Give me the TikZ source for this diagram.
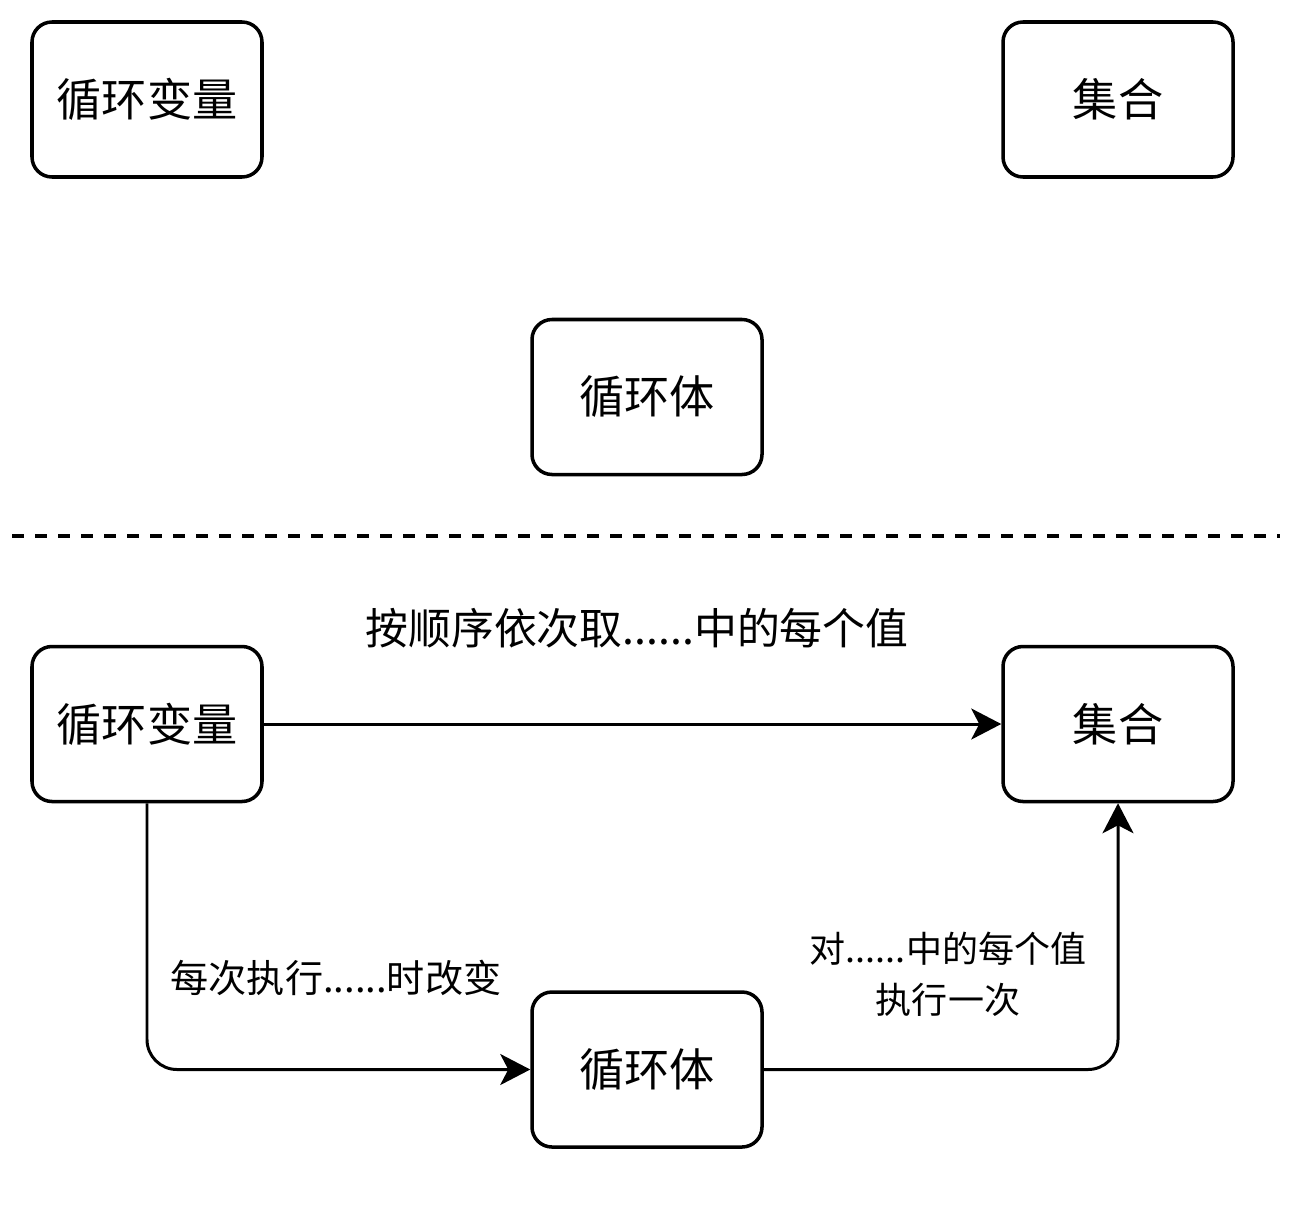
\documentclass[tikz,border=0pt]{standalone}
\usepackage{fontspec}
\setmainfont{Noto Sans CJK SC}
\usepackage{tikz}
\usetikzlibrary{positioning,arrows.meta}

\begin{document}
\begin{tikzpicture}[
  boxnode/.style={
    draw=black, line width=2pt, rounded corners=0.4cm,
    minimum width=4.6cm, minimum height=3.1cm,
    fill=white, font=\fontsize{25.7}{30}\selectfont,
    align=center,
  },
  lbl/.style={font=\fontsize{24.4}{28}\selectfont, align=center, inner sep=1pt},
  lblmid/.style={font=\fontsize{21.7}{26}\selectfont, align=center, inner sep=1pt},
  lblsmall/.style={font=\fontsize{20.5}{29}\selectfont, align=center, inner sep=1pt},
  link/.style={draw=black, line width=1.7pt, rounded corners=0.6cm,
    -{Stealth[length=0.6cm, width=0.62cm, inset=0.16cm]}},
]
\useasboundingbox (0,0) rectangle (25.9,-24.3);

% === UPPER PART: boxes only ===
\node[boxnode] (var_top)  at (2.94, -1.99)  {循环变量};
\node[boxnode] (set_top)  at (22.36, -1.99) {集合};
\node[boxnode] (body_top) at (12.94, -7.94) {循环体};

% === SEPARATOR ===
\coordinate (sep_l) at (0.24, -10.72);
\coordinate (sep_r) at (25.6, -10.72);
\draw[line width=2.2pt, dash pattern=on 0.24cm off 0.22cm] (sep_l) -- (sep_r);

% === LOWER PART: boxes with connectors ===
\node[boxnode] (var)  at (2.94, -14.48)  {循环变量};
\node[boxnode] (set)  at (22.36, -14.48) {集合};
\node[boxnode] (body) at (12.94, -21.39) {循环体};

\draw[link] (var) -- (set);
\draw[link] (var.south) |- (body.west);
\draw[link] (body.east) -| (set.south);

% === LABELS ===
\node[lbl] (lbl_take) at (12.74, -12.56) {按顺序依次取......中的每个值};
\node[lblmid] (lbl_change) at (6.72, -19.56) {每次执行......时改变};
\node[lblsmall] (lbl_each) at (18.96, -19.48) {对......中的每个值\\执行一次};

\end{tikzpicture}
\end{document}
